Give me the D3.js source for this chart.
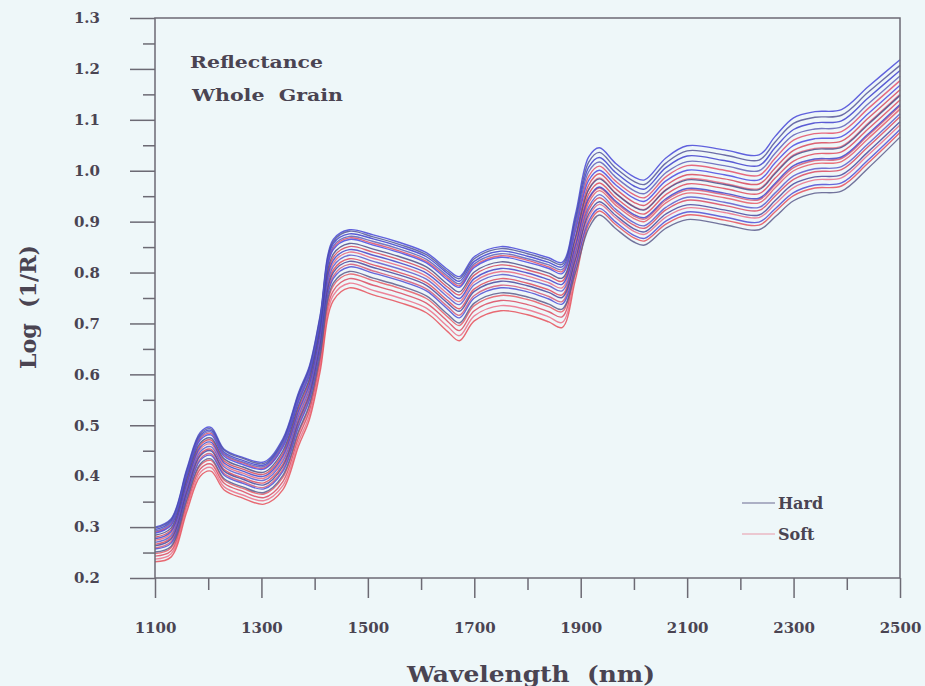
<!DOCTYPE html>
<html>
<head>
<meta charset="utf-8">
<script src="https://cdn.jsdelivr.net/npm/d3@7/dist/d3.min.js"></script>
<style>
  html, body { margin: 0; padding: 0; background: #eef7f9; }
  svg { display: block; }
  text { font-family: "DejaVu Serif", serif; font-weight: bold; fill: #4a4452; white-space: pre; }
</style>
</head>
<body>
<svg id="chart" width="925" height="686"></svg>
<script>
// ---- data ----
const wavelengths = [1100,1130,1160,1185,1205,1230,1265,1305,1340,1370,1390,1410,1435,1465,1510,1560,1610,1650,1672,1700,1750,1800,1840,1865,1890,1915,1935,1965,2000,2020,2060,2100,2170,2235,2265,2300,2340,2390,2440,2500];

const hard1  = [0.300,0.316,0.415,0.486,0.496,0.453,0.437,0.428,0.473,0.565,0.616,0.714,0.865,0.884,0.874,0.859,0.839,0.806,0.792,0.831,0.851,0.841,0.829,0.820,0.914,1.027,1.045,1.015,0.988,0.982,1.025,1.049,1.041,1.031,1.067,1.104,1.116,1.120,1.165,1.218];
const hard2  = [0.298,0.314,0.412,0.483,0.493,0.451,0.435,0.425,0.470,0.562,0.613,0.711,0.861,0.881,0.870,0.855,0.835,0.802,0.788,0.827,0.847,0.837,0.825,0.816,0.907,1.017,1.036,1.006,0.979,0.973,1.015,1.039,1.031,1.021,1.056,1.093,1.105,1.109,1.154,1.207];
const hard3  = [0.295,0.311,0.409,0.480,0.490,0.447,0.431,0.422,0.466,0.558,0.609,0.706,0.857,0.876,0.866,0.851,0.831,0.798,0.783,0.822,0.842,0.832,0.820,0.811,0.900,1.007,1.026,0.997,0.970,0.964,1.006,1.029,1.020,1.010,1.045,1.081,1.094,1.098,1.143,1.197];
const hard4  = [0.292,0.308,0.406,0.477,0.487,0.444,0.428,0.419,0.462,0.553,0.604,0.702,0.852,0.871,0.861,0.846,0.826,0.793,0.778,0.817,0.837,0.827,0.815,0.806,0.893,0.998,1.017,0.988,0.961,0.955,0.996,1.018,1.010,1.000,1.034,1.070,1.082,1.086,1.131,1.186];
const hard5  = [0.288,0.303,0.401,0.471,0.481,0.439,0.423,0.414,0.456,0.547,0.598,0.695,0.845,0.865,0.854,0.839,0.819,0.785,0.771,0.810,0.830,0.820,0.808,0.798,0.881,0.981,1.001,0.973,0.946,0.940,0.980,1.001,0.992,0.982,1.015,1.050,1.063,1.067,1.112,1.168];
const hard6  = [0.284,0.298,0.395,0.465,0.475,0.434,0.418,0.408,0.449,0.540,0.591,0.688,0.836,0.857,0.846,0.831,0.811,0.777,0.762,0.801,0.821,0.811,0.799,0.789,0.868,0.963,0.984,0.956,0.929,0.923,0.962,0.982,0.973,0.963,0.994,1.029,1.042,1.046,1.091,1.148];
const hard7  = [0.277,0.291,0.386,0.457,0.467,0.426,0.410,0.400,0.439,0.529,0.580,0.677,0.824,0.845,0.834,0.819,0.799,0.765,0.749,0.788,0.808,0.799,0.786,0.777,0.853,0.946,0.968,0.941,0.914,0.908,0.945,0.965,0.956,0.946,0.975,1.010,1.023,1.027,1.072,1.130];
const hard8  = [0.270,0.283,0.378,0.448,0.458,0.418,0.402,0.392,0.429,0.519,0.570,0.666,0.812,0.834,0.822,0.807,0.787,0.752,0.737,0.776,0.796,0.786,0.774,0.764,0.839,0.929,0.953,0.925,0.898,0.892,0.928,0.948,0.938,0.928,0.956,0.990,1.004,1.008,1.053,1.112];
const hard9  = [0.263,0.276,0.370,0.440,0.450,0.410,0.394,0.383,0.419,0.508,0.559,0.655,0.800,0.822,0.810,0.795,0.775,0.740,0.724,0.763,0.783,0.774,0.761,0.751,0.826,0.915,0.939,0.913,0.886,0.880,0.915,0.933,0.923,0.913,0.941,0.974,0.988,0.992,1.037,1.096];
const hard10 = [0.257,0.268,0.361,0.431,0.441,0.402,0.386,0.375,0.409,0.498,0.549,0.644,0.788,0.811,0.799,0.784,0.764,0.728,0.711,0.750,0.770,0.762,0.748,0.738,0.812,0.901,0.926,0.900,0.873,0.867,0.901,0.919,0.909,0.899,0.925,0.957,0.972,0.976,1.021,1.081];
const hard11 = [0.251,0.262,0.354,0.424,0.434,0.395,0.379,0.368,0.401,0.489,0.540,0.635,0.779,0.802,0.789,0.774,0.754,0.718,0.701,0.740,0.760,0.752,0.738,0.728,0.800,0.887,0.913,0.887,0.860,0.854,0.887,0.904,0.894,0.884,0.909,0.941,0.956,0.960,1.005,1.066];

const soft1 = [0.290,0.305,0.403,0.474,0.484,0.442,0.426,0.416,0.459,0.550,0.601,0.699,0.848,0.868,0.857,0.842,0.822,0.789,0.774,0.813,0.833,0.824,0.811,0.802,0.887,0.989,1.009,0.980,0.953,0.947,0.988,1.010,1.001,0.991,1.024,1.060,1.073,1.077,1.122,1.177];
const soft2 = [0.280,0.294,0.391,0.461,0.471,0.430,0.414,0.404,0.444,0.535,0.586,0.682,0.830,0.851,0.840,0.825,0.805,0.771,0.756,0.795,0.815,0.805,0.793,0.783,0.869,0.972,0.994,0.965,0.938,0.932,0.971,0.992,0.984,0.974,1.005,1.040,1.054,1.058,1.103,1.159];
const soft3 = [0.274,0.287,0.382,0.453,0.463,0.422,0.406,0.396,0.434,0.524,0.575,0.671,0.818,0.840,0.828,0.813,0.793,0.758,0.743,0.782,0.802,0.793,0.780,0.770,0.859,0.964,0.986,0.957,0.930,0.924,0.963,0.984,0.975,0.965,0.996,1.031,1.044,1.048,1.093,1.150];
const soft4 = [0.266,0.279,0.373,0.443,0.453,0.413,0.397,0.387,0.423,0.513,0.564,0.659,0.805,0.827,0.815,0.800,0.780,0.745,0.729,0.768,0.788,0.779,0.766,0.756,0.847,0.954,0.976,0.948,0.921,0.915,0.953,0.974,0.965,0.955,0.985,1.019,1.033,1.037,1.082,1.139];
const soft5 = [0.259,0.271,0.365,0.434,0.444,0.405,0.389,0.378,0.413,0.502,0.553,0.648,0.793,0.816,0.803,0.788,0.768,0.733,0.716,0.755,0.775,0.767,0.753,0.743,0.835,0.943,0.966,0.938,0.911,0.905,0.942,0.962,0.953,0.943,0.972,1.006,1.020,1.024,1.069,1.127];
const soft6 = [0.248,0.259,0.351,0.421,0.431,0.392,0.376,0.365,0.397,0.485,0.536,0.630,0.774,0.797,0.784,0.769,0.749,0.713,0.696,0.735,0.755,0.747,0.733,0.723,0.822,0.937,0.961,0.933,0.906,0.900,0.937,0.956,0.947,0.937,0.966,1.000,1.014,1.018,1.063,1.121];
const soft7 = [0.243,0.253,0.344,0.414,0.424,0.386,0.370,0.358,0.389,0.477,0.528,0.622,0.764,0.788,0.775,0.760,0.740,0.704,0.686,0.725,0.745,0.737,0.723,0.713,0.810,0.923,0.947,0.920,0.893,0.887,0.923,0.942,0.932,0.922,0.950,0.983,0.998,1.002,1.047,1.106];
const soft8 = [0.237,0.247,0.338,0.407,0.417,0.379,0.363,0.352,0.381,0.468,0.519,0.613,0.755,0.779,0.765,0.750,0.730,0.694,0.676,0.715,0.735,0.727,0.713,0.702,0.798,0.909,0.934,0.908,0.881,0.875,0.909,0.927,0.918,0.908,0.934,0.967,0.982,0.986,1.031,1.090];
const soft9 = [0.232,0.241,0.331,0.400,0.410,0.373,0.357,0.345,0.373,0.460,0.511,0.604,0.745,0.770,0.756,0.741,0.721,0.684,0.666,0.705,0.725,0.717,0.703,0.692,0.786,0.895,0.921,0.895,0.868,0.862,0.895,0.913,0.903,0.893,0.919,0.951,0.966,0.970,1.015,1.075];

const hardSeries = [hard1,hard2,hard3,hard4,hard5,hard6,hard7,hard8,hard9,hard10,hard11];
const softSeries = [soft1,soft2,soft3,soft4,soft5,soft6,soft7,soft8,soft9];

const xMajorTicks = [1100,1300,1500,1700,1900,2100,2300,2500];
const xMinorTicks = [1200,1400,1600,1800,2000,2200,2400];
const yMajorTicks = [0.2,0.3,0.4,0.5,0.6,0.7,0.8,0.9,1.0,1.1,1.2,1.3];
const yMinorTicks = [0.25,0.35,0.45,0.55,0.65,0.75,0.85,0.95,1.05,1.15,1.25];

const legendLabels = ["Hard","Soft"];
const noteLines = ["Reflectance","Whole  Grain"];

// ---- drawing ----
const svg = d3.select("#chart");
const mLeft = 155, mRight = 900, mTop = 18, mBottom = 578;
const x = d3.scaleLinear().domain([1100,2500]).range([mLeft,mRight]);
const y = d3.scaleLinear().domain([0.2,1.3]).range([mBottom,mTop]);

const axisColor = "#6c6a74";
const hardColors = ["#4646d8","#55559a","#3f3fce","#6060b8","#4a4ae0","#4e4e88","#4343c8","#5a5acc","#48489e","#4d4dd4","#5c5c8c"];
const softColors = ["#e4506a","#d9485a","#ea6a80","#e04a5c","#d65a78","#e85a66","#dc4a60","#ec7088","#e6505a"];

const line = d3.line()
  .x((d,i) => x(wavelengths[i]))
  .y(d => y(d))
  .curve(d3.curveCatmullRom.alpha(0.5));

const gLines = svg.append("g");
const order = [];
const n = Math.max(hardSeries.length, softSeries.length);
for (let i = 0; i < n; i++) {
  if (i < softSeries.length) order.push({s: softSeries[i], c: softColors[i]});
  if (i < hardSeries.length) order.push({s: hardSeries[i], c: hardColors[i]});
}
gLines.selectAll("path").data(order).join("path")
  .attr("d", d => line(d.s))
  .attr("fill", "none")
  .attr("stroke", d => d.c)
  .attr("stroke-width", 1.4)
  .attr("stroke-opacity", 0.85);

// frame
svg.append("rect")
  .attr("x", mLeft).attr("y", mTop)
  .attr("width", mRight-mLeft).attr("height", mBottom-mTop)
  .attr("fill", "none").attr("stroke", axisColor).attr("stroke-width", 1.5);

function styleAxis(g) {
  g.select(".domain").remove();
  g.selectAll(".tick line").attr("stroke", axisColor).attr("stroke-width", 1.5);
  g.selectAll("text").attr("fill", "#4a4452")
    .style("font-family", "'DejaVu Serif', serif").style("font-weight", "bold").style("font-size", "15px");
}

svg.append("g").attr("transform", `translate(0,${mBottom})`)
  .call(d3.axisBottom(x).tickValues(xMajorTicks).tickSize(20).tickPadding(24).tickFormat(d3.format("d")))
  .call(styleAxis);
svg.append("g").attr("transform", `translate(0,${mBottom})`)
  .call(d3.axisBottom(x).tickValues(xMinorTicks).tickSize(12).tickFormat(""))
  .call(styleAxis);
svg.append("g").attr("transform", `translate(${mLeft},0)`)
  .call(d3.axisLeft(y).tickValues(yMajorTicks).tickSize(25).tickPadding(30).tickFormat(d3.format(".1f")))
  .call(styleAxis);
svg.append("g").attr("transform", `translate(${mLeft},0)`)
  .call(d3.axisLeft(y).tickValues(yMinorTicks).tickSize(12).tickFormat(""))
  .call(styleAxis);

// axis titles
svg.append("text")
  .attr("x", 531).attr("y", 682)
  .attr("text-anchor", "middle")
  .attr("textLength", 248).attr("lengthAdjust", "spacingAndGlyphs")
  .style("font-size", "23px")
  .text("Wavelength  (nm)");

svg.append("text")
  .attr("transform", "translate(36,307) rotate(-90)")
  .attr("text-anchor", "middle")
  .attr("textLength", 124).attr("lengthAdjust", "spacingAndGlyphs")
  .style("font-size", "22px")
  .text("Log  (1/R)");

// note text
svg.append("text").attr("x", 190).attr("y", 68)
  .attr("textLength", 133).attr("lengthAdjust", "spacingAndGlyphs")
  .style("font-size", "16px").text(noteLines[0]);
svg.append("text").attr("x", 192).attr("y", 101)
  .attr("textLength", 151).attr("lengthAdjust", "spacingAndGlyphs")
  .style("font-size", "16px").text(noteLines[1]);

// legend
const legendColors = ["#6a6a92", "#e89aaa"];
const legendY = [503, 534];
legendLabels.forEach((lab, i) => {
  svg.append("line")
    .attr("x1", 742).attr("x2", 775)
    .attr("y1", legendY[i]).attr("y2", legendY[i])
    .attr("stroke", legendColors[i]).attr("stroke-width", 1.2);
  svg.append("text")
    .attr("x", 778).attr("y", legendY[i] + 6)
    .style("font-size", "16px")
    .text(lab);
});
</script>
</body>
</html>
